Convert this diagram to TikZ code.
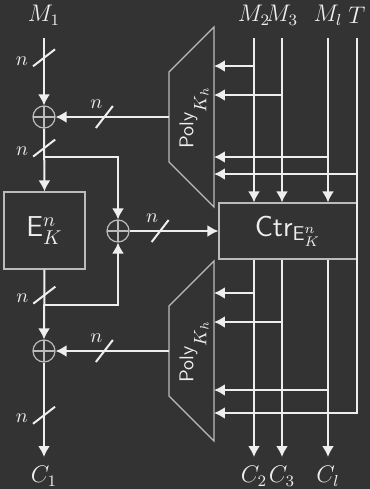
\documentclass[tikz,border=0pt]{standalone}
\usetikzlibrary{arrows.meta,calc}
\definecolor{bg}{HTML}{333333}
\definecolor{fg}{HTML}{EEEEEE}
\definecolor{edgec}{HTML}{BBBBBB}
\newcommand{\polytext}{{\fontsize{10}{12}\selectfont\sffamily Poly}\raisebox{-6.5pt}{\fontsize{9}{11}\selectfont$K_h$}}
\begin{document}
\begin{tikzpicture}[x=0.5pt,y=-0.5pt,
  wire/.style={draw=fg, line width=1pt},
  arr/.style={wire, -{Latex[length=5.5pt,width=6pt]}},
  thin/.style={draw=edgec, line width=0.6pt},
  box/.style={thin, text=fg, font=\Large\sffamily, inner sep=0pt},
  xorop/.style={circle, thin, minimum size=11pt, inner sep=0pt,
    path picture={\draw[edgec, line width=0.6pt]
      (path picture bounding box.north) -- (path picture bounding box.south)
      (path picture bounding box.west) -- (path picture bounding box.east);}},
  lbl/.style={text=fg, font=\large, inner sep=0pt},
  nlbl/.style={text=fg, inner sep=0pt},
  polylbl/.style={text=fg, rotate=90, inner sep=0pt},
  slashmark/.style={wire}
]
\fill[bg] (0,0) rectangle (370,489);
\useasboundingbox (0,0) rectangle (370,489);

% left column nodes
\node[lbl] (M1) at (44,15) {$M_1$};
\coordinate (m1top) at (44,38);
\node[xorop] (x1) at (44,117) {};
\node[box, minimum width=40.5pt, minimum height=38.5pt] (E) at (44.5,230.5) {$\mathsf{E}^n_K$};
\node[xorop] (x2) at (118,231) {};
\node[xorop] (x3) at (44,351) {};
\coordinate (c1end) at (44,457);
\node[lbl] (C1) at (44,476) {$C_1$};

% Ctr box
\node[box, minimum width=69pt, minimum height=28pt] (ctr) at (288,231) {Ctr$_{\mathsf{E}^n_K}$};

% trapezoids
\draw[thin] (169,72) -- (214,27) -- (214,207) -- (169,162) -- cycle;
\coordinate (p1w) at (169,117);
\node[polylbl] (poly1) at (194,118) {\polytext};
\draw[thin] (169,306) -- (214,261) -- (214,441) -- (169,396) -- cycle;
\coordinate (p2w) at (169,351);
\node[polylbl] (poly2) at (194,352) {\polytext};

% poly input points
\coordinate (p1a) at (214,66);
\coordinate (p1b) at (214,95);
\coordinate (p1c) at (214,157);
\coordinate (p1d) at (214,174);
\coordinate (p2a) at (214,293);
\coordinate (p2b) at (214,322);
\coordinate (p2c) at (214,390);
\coordinate (p2d) at (214,413);

% top labels and line starts
\node[lbl] (M2) at (254,15) {$M_2$};
\node[lbl] (M3) at (282,15) {$M_3$};
\node[lbl] (Ml) at (328,15) {$M_l$};
\node[lbl] (T) at (357,15) {$T$};
\coordinate (m2top) at (254,38);
\coordinate (m3top) at (282,38);
\coordinate (mltop) at (328,38);
\coordinate (ttop) at (357,38);
\coordinate (tbot) at (357,413);

% bottom labels
\coordinate (c2end) at (254,457);
\coordinate (c3end) at (282,457);
\coordinate (clend) at (328,457);
\node[lbl] (C2) at (254,476) {$C_2$};
\node[lbl] (C3) at (282,476) {$C_3$};
\node[lbl] (Cl) at (328,476) {$C_l$};

% left column wires
\draw[arr] (m1top) -- coordinate[pos=0.294] (s1) (x1.north);
\draw[arr] (x1.south) -- coordinate[pos=0.31] (s2) coordinate[pos=0.453] (b1) (E.north);
\draw[arr] (b1) -| (x2.north);
\draw[arr] (E.south) -- coordinate[pos=0.366] (s3) coordinate[pos=0.507] (b2) (x3.north);
\draw[arr] (b2) -| (x2.south);
\draw[arr] (x3.south) -- coordinate[pos=0.558] (s4) (c1end);
\draw[arr] (p1w) -- coordinate[pos=0.57] (h1) (x1.east);
\draw[arr] (p2w) -- coordinate[pos=0.57] (h3) (x3.east);
\draw[arr] (x2.east) -- coordinate[pos=0.344] (h2) (ctr.west);

% slash marks
\foreach \s in {s1,s2,s3,s4}{
  \draw[slashmark] (\s) +(-5.5pt,-4.25pt) -- +(5.5pt,4.25pt);
  \node[nlbl] at ($(\s)+(-11pt,-1.5pt)$) {$n$};
}
\foreach \s in {h1,h2,h3}{
  \draw[slashmark] (\s) +(-4.25pt,-5.5pt) -- +(4.25pt,5.5pt);
  \node[nlbl] at ($(\s)+(-4pt,6.5pt)$) {$n$};
}

% right side, top
\draw[arr] (m2top) -- (m2top |- ctr.north);
\draw[arr] (m3top) -- (m3top |- ctr.north);
\draw[arr] (mltop) -- (mltop |- ctr.north);
\draw[arr] (p1a -| m2top) -- (p1a);
\draw[arr] (p1b -| m3top) -- (p1b);
\draw[arr] (p1c -| mltop) -- (p1c);
\draw[arr] (p1d -| ttop) -- (p1d);
\draw[arr] (ttop) -- (tbot) -- (p2d);

% right side, bottom
\draw[arr] (m2top |- ctr.south) -- (c2end);
\draw[arr] (m3top |- ctr.south) -- (c3end);
\draw[arr] (mltop |- ctr.south) -- (clend);
\draw[arr] (p2a -| m2top) -- (p2a);
\draw[arr] (p2b -| m3top) -- (p2b);
\draw[arr] (p2c -| mltop) -- (p2c);
\end{tikzpicture}
\end{document}
